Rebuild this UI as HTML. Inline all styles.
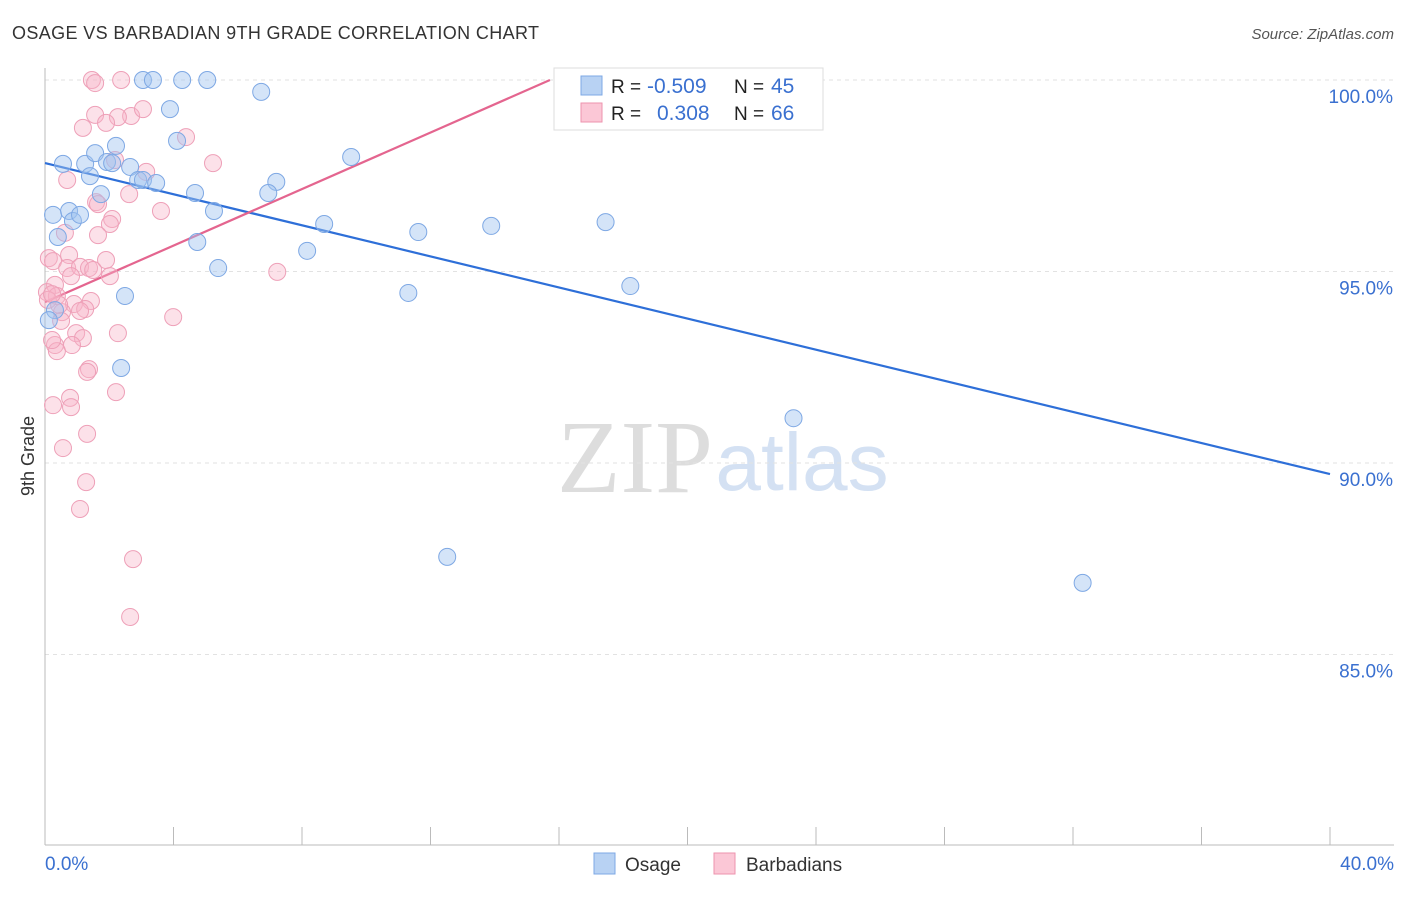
<!DOCTYPE html>
<html><head><meta charset="utf-8">
<style>
body{margin:0;background:#fff;font-family:"Liberation Sans",sans-serif;}
svg text{font-family:"Liberation Sans",sans-serif;}
</style></head>
<body>
<svg id="chart" width="1406" height="892" xmlns="http://www.w3.org/2000/svg">
<text x="12" y="39" font-size="18" fill="#333" textLength="527">OSAGE VS BARBADIAN 9TH GRADE CORRELATION CHART</text>
<text x="1394" y="39" font-size="15" fill="#555" font-style="italic" text-anchor="end">Source: ZipAtlas.com</text>
<g>
<text x="635" y="492" font-size="104" fill="#ddd" text-anchor="middle" style="font-family:'Liberation Serif',serif">ZIP</text>
<text x="802" y="490" font-size="82" fill="#d4e1f3" text-anchor="middle">atlas</text>
</g>
<g id="grid"></g>
<g id="axes"></g>
<g id="lines"></g>
<g id="points"></g>
<text x="34" y="456" font-size="18" fill="#333" text-anchor="middle" transform="rotate(-90 34 456)">9th Grade</text>
<text x="45" y="870" font-size="19" fill="#3a70d0">0.0%</text>
<text x="1394" y="870" font-size="19" fill="#3a70d0" text-anchor="end">40.0%</text>
<g>
<rect x="554" y="68" width="269" height="62" fill="#fff" stroke="#ddd"/>
<rect x="581" y="76" width="21" height="19" fill="#b8d2f3" stroke="#7ea8e4"/>
<rect x="581" y="103" width="21" height="19" fill="#fbc7d6" stroke="#ee93ae"/>
<text x="611" y="93" font-size="19" fill="#222">R =</text>
<text x="647" y="93" font-size="21" fill="#3a70d0">-0.509</text>
<text x="734" y="93" font-size="19" fill="#222">N =</text>
<text x="771" y="93" font-size="21" fill="#3a70d0">45</text>
<text x="611" y="120" font-size="19" fill="#222">R =</text>
<text x="657" y="120" font-size="21" fill="#3a70d0">0.308</text>
<text x="734" y="120" font-size="19" fill="#222">N =</text>
<text x="771" y="120" font-size="21" fill="#3a70d0">66</text>
</g>
<g>
<rect x="594" y="853" width="21" height="21" fill="#b8d2f3" stroke="#7ea8e4"/>
<text x="625" y="871" font-size="19" fill="#333">Osage</text>
<rect x="714" y="853" width="21" height="21" fill="#fbc7d6" stroke="#ee93ae"/>
<text x="746" y="871" font-size="19" fill="#333">Barbadians</text>
</g>
</svg>
<script>
const yTicks=[100,95,90,85];
const yTickLabels=["100.0%","95.0%","90.0%","85.0%"];
const xTicks=[0,4,8,12,16,20,24,28,32,36,40];
const osageX=[3.05,3.36,4.27,5.05,6.73,3.89,2.21,4.11,0.56,1.25,1.56,1.93,2.09,2.65,1.40,2.90,3.05,3.46,4.67,1.74,7.20,6.95,9.53,0.25,0.75,0.87,1.09,5.26,8.69,11.62,13.89,17.45,0.40,4.74,8.16,5.39,2.49,11.31,18.22,0.31,0.12,2.37,23.30,12.52,32.30];
const osageY=[100,100,100,100,99.69,99.24,98.28,98.41,97.81,97.81,98.09,97.86,97.83,97.73,97.49,97.39,97.39,97.31,97.05,97.02,97.34,97.05,97.99,96.48,96.58,96.32,96.48,96.58,96.24,96.03,96.19,96.29,95.90,95.77,95.54,95.09,94.36,94.44,94.62,93.99,93.73,92.48,91.17,87.55,86.87];
const barbX=[1.46,1.56,2.37,18.38,1.56,2.68,3.05,2.27,1.18,1.90,4.39,5.23,2.18,3.15,0.69,2.62,1.59,1.65,3.61,2.09,2.02,0.62,1.65,0.12,0.25,0.75,1.90,0.69,1.09,1.37,1.50,0.81,2.02,7.23,0.31,0.06,0.37,1.43,0.90,1.25,0.53,1.09,0.09,3.99,0.50,0.97,2.27,1.18,0.31,0.84,0.37,1.37,1.31,2.21,0.78,0.81,0.25,1.31,0.56,1.28,1.09,2.74,2.65,0.22,0.44,0.22];
const barbY=[100,99.92,100,100,99.09,99.06,99.24,99.03,98.75,98.88,98.51,97.83,97.91,97.60,97.39,97.02,96.81,96.76,96.58,96.37,96.24,96.01,95.95,95.35,95.27,95.43,95.30,95.09,95.12,95.09,95.04,94.88,94.88,94.99,94.65,94.46,94.36,94.23,94.15,94.02,93.94,93.97,94.26,93.81,93.71,93.39,93.39,93.26,93.08,93.08,92.92,92.45,92.38,91.85,91.70,91.46,91.51,90.76,90.39,89.50,88.80,87.49,85.98,93.21,94.13,94.41];
const osageLine=[97.83,-0.203];
const barbLine=[94.20,0.369];

const NS="http://www.w3.org/2000/svg";
const xs=v=>45+v/40*1285;
const ys=v=>80+(100-v)*38.3;
function mk(tag,attrs,parent){const e=document.createElementNS(NS,tag);for(const k in attrs)e.setAttribute(k,attrs[k]);document.getElementById(parent).appendChild(e);return e;}
yTicks.forEach((t,i)=>{
 const l=mk('line',{x1:45,x2:1394,y1:ys(t),y2:ys(t),stroke:'#e2e2e2','stroke-dasharray':'4,4'},'grid');
 
 
 const tx=mk('text',{x:1393,y:ys(t)+23,'font-size':19,fill:'#3a70d0','text-anchor':'end'},'grid');
 tx.textContent=yTickLabels[i];
 
 
});
const ax=mk('line',{x1:45,x2:1394,y1:845,y2:845,stroke:'#bbb'},'axes');


const ay=mk('line',{x1:45,x2:45,y1:68,y2:845,stroke:'#bbb'},'axes');


xTicks.forEach(t=>{
 const l=mk('line',{x1:xs(t),x2:xs(t),y1:827,y2:845,stroke:'#bbb'},'axes');
 
 
});
const bl=mk('line',{x1:xs(0),y1:ys(osageLine[0]),x2:xs(40),y2:ys(osageLine[0]+40*osageLine[1]),stroke:'#2e6fd8','stroke-width':2.2},'lines');


const xEnd=Math.min(40,(100-barbLine[0])/barbLine[1]);
const pl=mk('line',{x1:xs(0),y1:ys(barbLine[0]),x2:xs(xEnd),y2:ys(barbLine[0]+xEnd*barbLine[1]),stroke:'#e4658f','stroke-width':2.2},'lines');


barbX.forEach((x,i)=>{
 const c=mk('circle',{cx:xs(x),cy:ys(barbY[i]),r:8.5,fill:'rgba(248,180,200,0.4)',stroke:'#eea0b8','stroke-width':1},'points');
 
 
});
osageX.forEach((x,i)=>{
 const c=mk('circle',{cx:xs(x),cy:ys(osageY[i]),r:8.5,fill:'rgba(160,195,240,0.45)',stroke:'#7ea8e4','stroke-width':1},'points');
 
 
});
</script>
</body></html>
